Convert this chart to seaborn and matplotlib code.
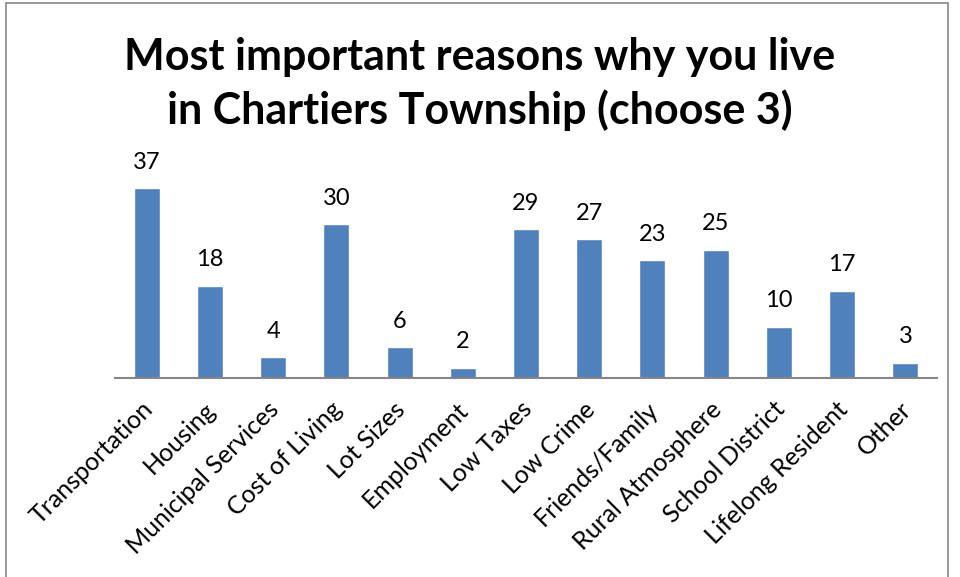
import matplotlib
matplotlib.use("Agg")
import matplotlib.pyplot as plt
import matplotlib.transforms as mtransforms
import seaborn as sns
import pandas as pd
from matplotlib.patches import Rectangle

categories = ["Transportation", "Housing", "Municipal Services", "Cost of Living",
              "Lot Sizes", "Employment", "Low Taxes", "Low Crime", "Friends/Family",
              "Rural Atmosphere", "School District", "Lifelong Resident", "Other"]
counts = [37, 18, 4, 30, 6, 2, 29, 27, 23, 25, 10, 17, 3]
title = "Most important reasons why you live\nin Chartiers Township (choose 3)"

sns.set_theme(style="white")
plt.rcParams["font.family"] = ["Lato", "DejaVu Sans"]
plt.rcParams["text.color"] = "black"
plt.rcParams["xtick.color"] = "black"

df = pd.DataFrame({"reason": categories, "count": counts})

fig = plt.figure(figsize=(9.6, 5.77), dpi=100)
W, H = 960, 577
ax = fig.add_axes([115 / W, 1 - 378 / H, (937 - 115) / W, 205.4 / H])

sns.barplot(data=df, x="reason", y="count", color="#4F81BD", saturation=1,
            width=0.41, ax=ax)
ax.set_ylim(0, 40)
ax.set_xlim(-0.5, len(categories) - 0.5)

for i, v in enumerate(counts):
    ax.annotate(str(v), (i, v), xytext=(0, 11), textcoords="offset points",
                ha="center", va="bottom", fontsize=17, color="black")

ax.set_xlabel("")
ax.set_ylabel("")
ax.set_yticks([])
for s in ["top", "right", "left"]:
    ax.spines[s].set_visible(False)
ax.spines["bottom"].set_color("#868686")
ax.spines["bottom"].set_linewidth(1.5)
ax.tick_params(axis="x", length=0, pad=14)
ax.set_xticks(range(len(categories)))
ax.set_xticklabels(categories, rotation=45, ha="right", va="top",
                   rotation_mode="anchor", fontsize=18, color="black")
shift = mtransforms.ScaledTranslation(-6 / 100, 0, fig.dpi_scale_trans)
for lbl in ax.get_xticklabels():
    lbl.set_transform(lbl.get_transform() + shift)

fig.text(0.5, 1 - 84 / H, title, ha="center", va="center", fontsize=31,
         fontweight="bold", linespacing=1.35, color="black")

fig.patches.append(Rectangle((6 / W, -0.01), (948 - 6) / W, 1 - 3 / H + 0.01,
                             transform=fig.transFigure, fill=False,
                             edgecolor="#868686", linewidth=1.2))

fig.savefig("out.png", dpi=100)
